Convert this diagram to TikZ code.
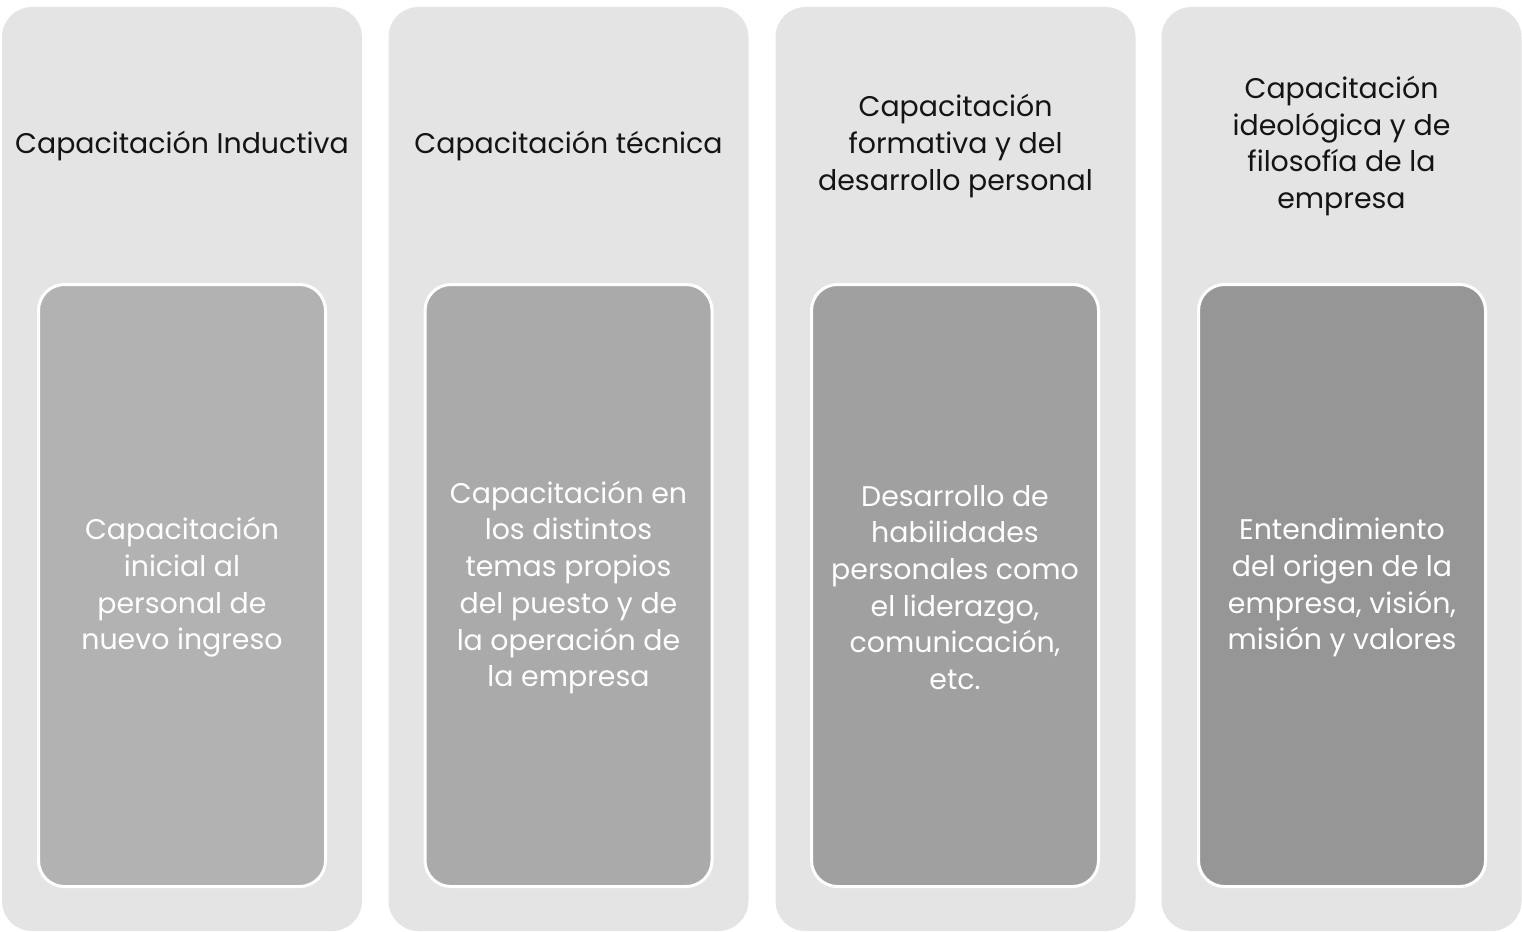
\documentclass[tikz,border=0pt]{standalone}
\usepackage{fontspec}
\setmainfont{Poppins}
\usepackage{tikz}
\usetikzlibrary{positioning}
\definecolor{colbg}{RGB}{228,228,228}
\definecolor{onecolor}{RGB}{178,178,178}
\definecolor{twocolor}{RGB}{170,170,170}
\definecolor{threecolor}{RGB}{160,160,160}
\definecolor{fourcolor}{RGB}{150,150,150}
\definecolor{headtext}{RGB}{20,20,20}
\tikzset{
  column/.style={rectangle, rounded corners=30pt, fill=colbg, draw=none,
                 minimum width=360pt, minimum height=924pt, inner sep=0pt},
  header/.style={font=\fontsize{28.4}{36.7}\selectfont, text=headtext,
                 align=center, inner sep=0pt},
  detail/.style={rectangle, rounded corners=26pt, fill=#1, draw=white,
                 line width=3pt, minimum width=287pt, minimum height=602pt,
                 inner sep=0pt},
  detail/.default=onecolor,
  detailtext/.style={font=\fontsize{28.4}{36.7}\selectfont, text=white,
                     align=center, inner sep=0pt},
}
\begin{document}
\begin{tikzpicture}[x=1pt, y=-1pt]

  \useasboundingbox (0,0) rectangle (1522,931);

  % --- Columns ---
  \node[column] (col1) at (182,469) {};
  \node[column] (col2) at (568.5,469) {};
  \node[column] (col3) at (955.5,469) {};
  \node[column] (col4) at (1341.5,469) {};

  % --- Titles ---
  \node[header] (tit1) at (182,146) {Capacitación Inductiva};
  \node[header] (tit2) at (568.5,146) {Capacitación técnica};
  \node[header] (tit3) at (955.5,146)
    {Capacitación\\formativa y del\\desarrollo personal};
  \node[header] (tit4) at (1341.5,146)
    {Capacitación\\ideológica y de\\filosofía de la\\empresa};

  % --- Inner boxes ---
  \node[detail=onecolor] (box1) at (182,585.5) {};
  \node[detail=twocolor] (box2) at (568.5,585.5) {};
  \node[detail=threecolor] (box3) at (955,585.5) {};
  \node[detail=fourcolor] (box4) at (1342,585.5) {};

  \node[detailtext] (txt1) at ([yshift=-2pt]box1)
    {Capacitación\\inicial al\\personal de\\nuevo ingreso};
  \node[detailtext] (txt2) at ([yshift=-2pt]box2)
    {Capacitación en\\los distintos\\temas propios\\del puesto y de\\la operación de\\la empresa};
  \node[detailtext] (txt3) at ([yshift=-2pt]box3)
    {Desarrollo de\\habilidades\\personales como\\el liderazgo,\\comunicación,\\etc.};
  \node[detailtext] (txt4) at ([yshift=-2pt]box4)
    {Entendimiento\\del origen de la\\empresa, visión,\\misión y valores};

\end{tikzpicture}
\end{document}
